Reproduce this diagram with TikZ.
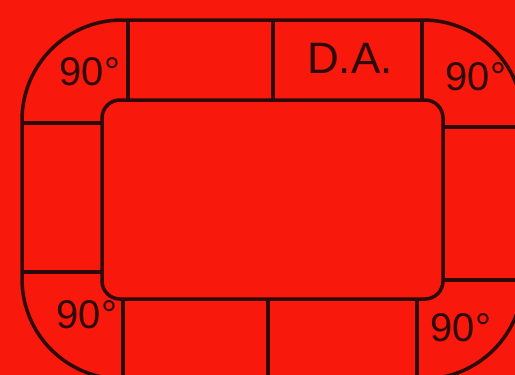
\documentclass[tikz,border=0pt]{standalone}
\usepackage{fontspec}
\setmainfont{Liberation Sans}
\definecolor{bgred}{RGB}{248,24,12}
\definecolor{ink}{RGB}{45,10,8}
\tikzset{
  track/.style = {draw = ink, line width = 3.5pt, line join = round},
  lbl/.style   = {text = ink, inner sep = 0pt, font = \fontsize{40}{40}\selectfont},
  biglbl/.style = {lbl, font = \fontsize{44}{44}\selectfont}
}
\begin{document}
\begin{tikzpicture}[x = 1pt, y = -1pt]
    \useasboundingbox (0,0) rectangle (515,375);
    \fill [bgred] (0,0) rectangle (515,375);
    \clip (0,0) rectangle (515,375);
    % outer and inner ring
    \draw [track, rounded corners = 100pt] (22,20) rectangle (523,379);
    \draw [track, rounded corners = 18pt] (102,100) rectangle (443,299);
    % top cells
    \draw [track] (128,20) -- (128,100);
    \draw [track] (273,20) -- (273,100);
    \draw [track] (422,20) -- (422,100);
    % left and right cells
    \draw [track] (22,123) -- (102,123);
    \draw [track] (22,272) -- (102,272);
    \draw [track] (443,127) -- (523,127);
    \draw [track] (443,280) -- (523,280);
    % bottom cells
    \draw [track] (123,299) -- (123,379);
    \draw [track] (268,299) -- (268,379);
    \draw [track] (417,299) -- (417,379);
    % labels
    \node [lbl] (tl) at (90,72) {90°};
    \node [biglbl] (da) at (350,58) {D.A.};
    \node [lbl] (tr) at (476,77) {90°};
    \node [lbl] (bl) at (87,315) {90°};
    \node [lbl] (br) at (461,328) {90°};
\end{tikzpicture}
\end{document}
